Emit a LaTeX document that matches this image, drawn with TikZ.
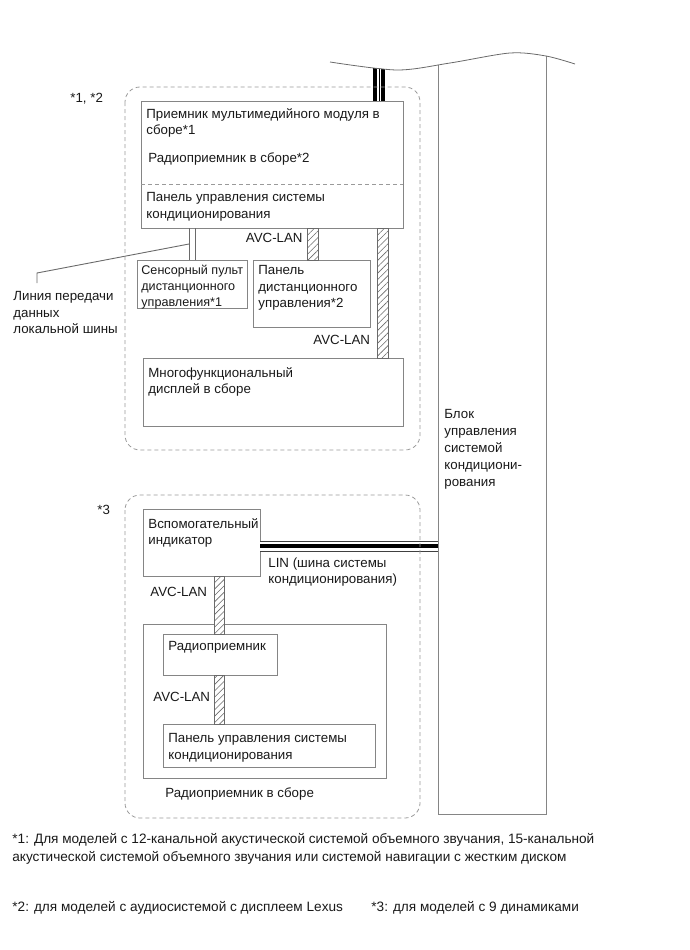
\documentclass[tikz,border=0pt]{standalone}
\usepackage{fontspec}
\setmainfont{Liberation Sans}
\usetikzlibrary{calc, patterns.meta}
\definecolor{linegray}{HTML}{6A6A6A}
\definecolor{boxgray}{HTML}{858585}
\definecolor{dashgray}{HTML}{9A9A9A}

\begin{document}
\begin{tikzpicture}[x=1pt, y=-1pt, line width=0.8pt,
  every node/.style={font=\fontsize{13.3}{16.5}\selectfont, text=black!90},
  unit/.style={draw=boxgray, anchor=north west, inner sep=0pt, outer sep=0pt},
  txt/.style={anchor=north west, align=left, inner sep=0pt},
  group/.style={draw=dashgray, dash pattern=on 4pt off 3pt, rounded corners=15pt},
  avc/.style={draw=linegray, line width=0.7pt, preaction={fill=white},
    pattern={Lines[angle=45, distance=4.5pt, line width=0.6pt]}, pattern color=linegray},
  topbus/.style={draw=black, line width=12pt,
    postaction={draw=white, line width=4.5pt}, postaction={draw=black, line width=1pt}},
  linbus/.style={draw=black!75, line width=11pt,
    postaction={draw=white, line width=9pt}, postaction={draw=black, line width=3.5pt}},
  note/.style={txt, font=\fontsize{13.6}{18}\selectfont}]
  \useasboundingbox (0,0) rectangle (690,950);

  % blocks of the upper group
  \node[unit, minimum width=262pt, minimum height=127pt] (head) at (141,101) {};
  \node[unit, minimum width=110pt, minimum height=48pt]  (sensor) at (137,260) {};
  \node[unit, minimum width=117pt, minimum height=67pt]  (remote) at (253,260) {};
  \node[unit, minimum width=260pt, minimum height=68pt]  (display) at (143,358) {};
  \draw[dashgray, dash pattern=on 4pt off 3pt]
    ($(head.north west)+(0,83)$) -- ($(head.north east)+(0,83)$);

  % blocks of the lower group
  \node[unit, minimum width=117pt, minimum height=67pt]  (indicator) at (143,509) {};
  \node[unit, minimum width=243pt, minimum height=154pt] (radioasm) at (143,624) {};
  \node[unit, minimum width=114pt, minimum height=41pt]  (radio) at (163,634) {};
  \node[unit, minimum width=212pt, minimum height=43pt]  (acpanel) at (163,724) {};

  % A/C amplifier column, cut off at the top
  \coordinate (bustop) at (379,40);
  \begin{scope}
    \clip plot[smooth] coordinates {(330,62) (397,70) (450,63) (510,53) (546,56) (575,64)}
      -- (575,830) -- (330,830) -- cycle;
    \node[unit, minimum width=108pt, minimum height=790pt] (acblock) at (438,24) {};
    \draw[topbus] (head.north -| bustop) -- (bustop);
  \end{scope}
  \draw[linegray] plot[smooth] coordinates {(330,62) (397,70) (450,63) (510,53) (546,56) (575,64)};

  % buses
  \coordinate (avcA) at (312.5,0);
  \coordinate (avcB) at (382.5,0);
  \coordinate (avcC) at (219,0);
  \coordinate (lin) at (260.4,546);
  \coordinate (leadend) at (37,283);
  \draw[avc] ($(head.south -| avcA)+(-5.5,0)$) rectangle ($(remote.north -| avcA)+(5.5,0)$);
  \draw[avc] ($(head.south -| avcB)+(-5.5,0)$) rectangle ($(display.north -| avcB)+(5.5,0)$);
  \draw[avc] ($(indicator.south -| avcC)+(-5,0)$) rectangle ($(radio.north -| avcC)+(5,0)$);
  \draw[avc] ($(radio.south -| avcC)+(-5,0)$) rectangle ($(acpanel.north -| avcC)+(5,0)$);
  \draw[linbus] (lin) -- ($(lin -| acblock.west)+(-0.4,0)$);
  \draw[linegray] ($(sensor.north)+(-3,0)$) -- ($(sensor.north |- head.south)+(-3,0)$);
  \draw[linegray] ($(sensor.north)+(3,0)$) -- ($(sensor.north |- head.south)+(3,0)$);
  \draw[linegray, line width=0.9pt] ($(sensor.north)+(-3,-16)$) -- ++(-152,29) -- (leadend);

  % dashed groups
  \draw[group] (125,87) rectangle (420,450);
  \draw[group] (125,495) rectangle (420,818);

  % labels
  \node[txt] at (70,93) {*1, *2};
  \node[txt] at ($(head.north west)+(5,7)$) {Приемник мультимедийного модуля в\\сборе*1};
  \node[txt] at ($(head.north west)+(7,51)$) {Радиоприемник в сборе*2};
  \node[txt] at ($(head.north west)+(5,91)$) {Панель управления системы\\кондиционирования};
  \node[txt, anchor=north east] at (303,233) {AVC-LAN};
  \node[txt, font=\fontsize{12.6}{16}\selectfont] at ($(sensor.north west)+(4,5)$)
    {Сенсорный пульт\\дистанционного\\управления*1};
  \node[txt] at ($(remote.north west)+(5,5)$) {Панель\\дистанционного\\управления*2};
  \node[txt] at (313,335) {AVC-LAN};
  \node[txt] at ($(display.north west)+(5,9)$) {Многофункциональный\\дисплей в сборе};
  \node[txt] at ($(leadend)+(-24,8)$) {Линия передачи\\данных\\локальной шины};
  \node[txt, font=\fontsize{13.3}{17}\selectfont] at (444,409)
    {Блок\\управления\\системой\\кондициони-\\рования};
  \node[txt] at (97,505) {*3};
  \node[txt] at ($(indicator.north west)+(5,9)$) {Вспомогательный\\индикатор};
  \node[txt] at (268,557) {LIN (шина системы\\кондиционирования)};
  \node[txt] at (150,587) {AVC-LAN};
  \node[txt] at ($(radio.north west)+(5,7)$) {Радиоприемник};
  \node[txt] at (153,692) {AVC-LAN};
  \node[txt] at ($(acpanel.north west)+(5,9)$) {Панель управления системы\\кондиционирования};
  \node[txt] at (165,787) {Радиоприемник в сборе};

  % footnotes
  \node[note] at (12,833) {*1: Для моделей с 12-канальной акустической системой объемного звучания, 15-канальной\\акустической системой объемного звучания или системой навигации с жестким диском};
  \node[note] at (12,901) {*2: для моделей с аудиосистемой с дисплеем Lexus};
  \node[note] at (371,901) {*3: для моделей с 9 динамиками};
\end{tikzpicture}
\end{document}
